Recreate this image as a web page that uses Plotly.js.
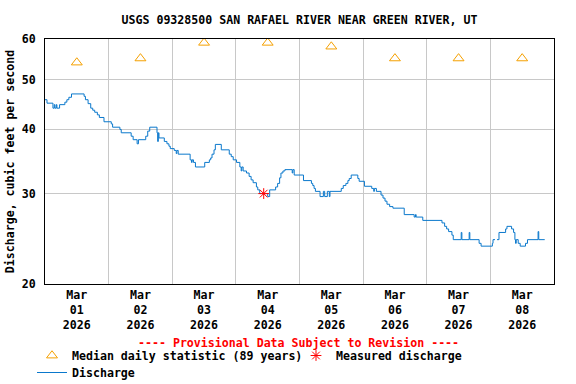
<!DOCTYPE html>
<html><head><meta charset="utf-8">
<script src="https://cdn.plot.ly/plotly-3.0.1.min.js"></script>
<style>html,body{margin:0;padding:0;background:#fff}#chart{width:576px;height:384px}</style>
</head><body><div id="chart"></div>
<script>
// Discharge: hours since 2026-03-01 00:00 and value (cfs), step data
const dischargeHours = [0,0.75,3.0,3.5,3.75,4.25,4.5,5.5,7.5,8.25,9.0,10.0,14.75,15.25,16.25,17.25,18.0,18.75,19.75,20.5,22.25,25.0,25.5,28.25,28.75,32.5,33.25,34.75,35.25,38.0,38.75,39.5,42.25,42.5,42.75,43.0,45.0,46.0,46.75,47.25,48.75,49.5,49.75,50.25,54.75,55.25,55.5,56.0,56.75,60.25,62.0,62.5,63.0,63.75,64.25,66.5,69.5,70.25,71.0,72.25,73.5,74.0,74.25,74.75,76.0,77.0,77.75,78.5,79.75,80.25,81.0,84.0,84.75,87.0,87.75,88.5,89.0,89.75,90.5,93.25,93.5,94.0,97.5,100.5,101.0,101.5,102.0,103.75,105.0,105.5,106.5,107.25,107.5,111.75,112.5,113.5,114.25,114.75,115.5,118.0,118.5,120.5,123.25,124.0,124.25,125.0,126.75,127.5,128.25,129.0,130.0,131.25,135.5,139.25,139.75,140.0,142.5,149.75,150.75,151.5,152.25,153.5,154.0,157.0,157.25,160.0,160.25,163.75,164.5,168.75,169.0,169.75,170.0,170.5,171.25,173.75,174.25,176.0,176.75,177.25,177.5,177.75,178.5,179.25,181.25,182.0,186.0,186.25,188.5];
const dischargeCfs = [45.7,45.0,44.0,44.7,44.0,44.7,44.0,44.7,45.2,45.7,46.2,46.9,46.4,45.7,44.9,44.0,43.6,43.2,42.7,42.2,41.4,41.0,40.4,40.0,39.4,38.8,38.2,37.5,38.2,38.8,39.7,40.4,39.4,37.9,39.4,38.5,37.9,37.5,37.1,36.7,36.4,35.9,36.4,35.8,34.9,34.5,34.9,34.5,33.8,34.5,34.9,35.2,35.8,36.5,37.4,36.5,35.8,35.4,34.9,34.5,33.8,33.2,33.8,33.2,32.9,32.4,31.9,31.5,30.9,30.5,30.0,29.6,30.5,30.9,31.4,32.2,32.9,33.2,33.4,32.9,33.4,32.6,31.8,31.4,31.1,30.7,30.3,29.6,30.3,29.6,30.3,29.6,30.3,30.7,31.1,31.4,31.8,32.1,32.6,32.1,31.7,31.0,30.7,30.3,30.7,30.3,29.8,29.4,29.0,28.6,28.3,28.1,27.3,27.0,27.3,27.0,26.6,26.3,25.9,25.6,25.3,24.9,24.4,25.2,24.4,25.2,24.4,24.0,23.7,24.0,24.4,24.4,null,24.4,25.2,25.6,25.9,25.6,25.2,24.4,24.0,24.4,24.0,23.7,24.0,24.4,25.3,24.4,24.4];

const medianDates = ['2026-03-01 12:00','2026-03-02 12:00','2026-03-03 12:00','2026-03-04 12:00','2026-03-05 12:00','2026-03-06 12:00','2026-03-07 12:00','2026-03-08 12:00'];
const medianCfs = [54,55,59,59,58,55,55,55];

const measuredDates = ['2026-03-04 10:30'];
const measuredCfs = [30.0];

const yTickVals = [20,30,40,50,60];
const yTickText = ['20','30','40','50','60'];
const xStart = '2026-03-01';
const xEnd = '2026-03-09';

const titleText = 'USGS 09328500 SAN RAFAEL RIVER NEAR GREEN RIVER, UT';
const yTitleText = 'Discharge, cubic feet per second';
const noteText = '---- Provisional Data Subject to Revision ----';

const base = Date.UTC(2026, 2, 1);
const dischargeTimes = dischargeHours.map(h => new Date(base + h * 3600000).toISOString().slice(0, 16).replace('T', ' '));

const FONT = '"DejaVu Sans Mono", "Liberation Mono", monospace';
const fnt = (c) => ({family: FONT, size: 11.6, color: c || 'black', weight: 'bold'});

const traces = [
  {x: dischargeTimes, y: dischargeCfs, type: 'scatter', mode: 'lines', name: 'Discharge',
   line: {color: '#0a78cc', width: 1, shape: 'hv'}, connectgaps: false, legend: 'legend2', hoverinfo: 'skip'},
  {x: medianDates, y: medianCfs, type: 'scatter', mode: 'markers', name: 'Median daily statistic (89 years)',
   marker: {symbol: 'triangle-up-open', size: 9.5, color: '#f5a000', line: {color: '#f5a000', width: 1}}, legend: 'legend'},
  {x: measuredDates, y: measuredCfs, type: 'scatter', mode: 'markers', name: 'Measured discharge',
   marker: {symbol: 'asterisk-open', size: 9, color: '#ff0000', line: {color: '#ff0000', width: 1}}, legend: 'legend3'}
];

const legendBase = {orientation: 'h', xref: 'container', yref: 'container', xanchor: 'left', yanchor: 'top',
  itemwidth: 30, bgcolor: 'rgba(0,0,0,0)', borderwidth: 0, font: fnt()};

const layout = {
  width: 576, height: 384,
  margin: {l: 45, r: 22, t: 39, b: 100},
  paper_bgcolor: 'white', plot_bgcolor: 'white',
  font: fnt(),
  showlegend: true,
  title: {text: titleText, x: 0.5, xref: 'paper', xanchor: 'center', y: 1 - 20 / 384, yref: 'container', yanchor: 'middle', font: fnt()},
  xaxis: {type: 'date', range: [xStart, xEnd], tickmode: 'linear', tick0: xStart, dtick: 86400000,
    ticklabelmode: 'period', tickformat: '%b<br>%d<br>%Y', tickfont: fnt(),
    showgrid: true, gridcolor: '#c8c8c8', gridwidth: 1, showline: true, mirror: true,
    linecolor: 'black', linewidth: 1, ticks: '', zeroline: false, fixedrange: true, automargin: false},
  yaxis: {type: 'log', range: [Math.log10(20), Math.log10(60)], tickmode: 'array', tickvals: yTickVals, ticktext: yTickText,
    tickfont: fnt(), showgrid: true, gridcolor: '#c8c8c8', gridwidth: 1, showline: true, mirror: true,
    linecolor: 'black', linewidth: 1, ticks: '', ticklabelstandoff: 6, zeroline: false, fixedrange: true, automargin: false,
    title: {text: yTitleText, font: fnt(), standoff: 4}},
  legend: Object.assign({}, legendBase, {x: 32 / 576, y: 1 - 341 / 384}),
  legend3: Object.assign({}, legendBase, {x: 296 / 576, y: 1 - 341 / 384}),
  legend2: Object.assign({}, legendBase, {x: 32 / 576, y: 1 - 358 / 384}),
  annotations: [{text: noteText, xref: 'paper', yref: 'paper', x: (298.5 - 45) / 509, y: (284 - 343.3) / 245,
    xanchor: 'center', yanchor: 'middle', showarrow: false, font: fnt('#ff0000')}]
};

Plotly.newPlot('chart', traces, layout, {staticPlot: true, displayModeBar: false});
</script>
</body></html>
